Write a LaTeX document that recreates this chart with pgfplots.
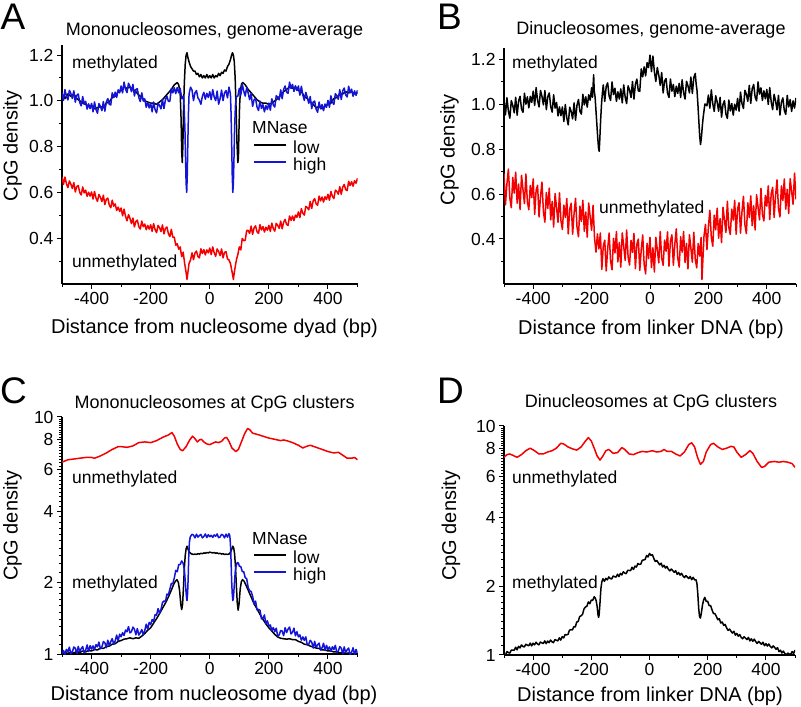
\documentclass[border=0pt]{standalone}
\usepackage{pgfplots}
\pgfplotsset{compat=1.18}
\usepackage{fontspec}
\setmainfont{Liberation Sans}
\definecolor{myred}{RGB}{245,0,0}
\definecolor{myblue}{RGB}{20,20,215}
\newcommand{\tfont}{\fontsize{17.5bp}{20bp}\selectfont}
\newcommand{\lfont}{\fontsize{20bp}{24bp}\selectfont}
\newcommand{\hfont}{\fontsize{18bp}{22bp}\selectfont}
\newcommand{\afont}{\fontsize{17.5bp}{20bp}\selectfont}
\newcommand{\pfont}{\fontsize{37bp}{40bp}\selectfont}
\pgfplotsset{
 panel/.style={
   scale only axis, anchor=south west,
   axis lines=left, axis line style={-, line width=1.4bp, black},
   tick align=outside, major tick length=5bp, minor tick length=3bp,
   tick style={black, line width=1bp},
   xmin=-500, xmax=500, xtick={-400,-200,0,200,400},
   minor xtick={-500,-300,-100,100,300,500},
   ticklabel style={font=\tfont},
   /pgf/number format/assume math mode=true,
   every axis plot/.append style={no marks, line width=1.5bp, line join=round},
 },
 linpanel/.style={ytick={0.4,0.6,0.8,1.0,1.2}, minor ytick={0.3,0.5,0.7,0.9,1.1},
   yticklabel style={/pgf/number format/.cd, fixed, fixed zerofill, precision=1}},
 logpanel/.style={ymin=1, ymax=10, ytick={1,2,4,6,8,10}, yticklabels={1,2,4,6,8,10},
   minor ytick={1.1,1.2,1.3,1.4,1.5,1.6,1.7,1.8,1.9,2.2,2.4,2.6,2.8,3,3.2,3.4,3.6,3.8,4.2,4.4,4.6,4.8,5,5.2,5.4,5.6,5.8,6.2,6.4,6.6,6.8,7,7.2,7.4,7.6,7.8,8.2,8.4,8.6,8.8,9,9.2,9.4,9.6,9.8}},
 mylegend/.style={legend cell align=left,
   legend image code/.code={\draw[##1, line width=2bp] (0bp,4.5bp) -- (32bp,4.5bp);},
   legend style={draw=none, fill=none, inner sep=0pt, anchor=north west, font=\afont,
     nodes={inner sep=0pt, text height=12bp, text depth=4.8bp},
     /tikz/every odd column/.append style={column sep=6bp}}},
}
\begin{document}
\begin{tikzpicture}
\useasboundingbox (0,0) rectangle (801bp,707bp);
% ---------------- A ----------------
\begin{axis}[panel, linpanel, mylegend, at={(62bp,423bp)}, width=295.5bp, height=239bp, ymin=0.2, ymax=1.244,
  legend style={at={(0.6464,0.597)}}]
\addplot[myred, forget plot] table[row sep=\\]{x y\\
-500 0.667\\ -495 0.635\\ -490 0.667\\ -485 0.638\\ -480 0.621\\ -475 0.650\\ -470 0.636\\ -465 0.617\\ -460 0.643\\ -455 0.602\\
-450 0.626\\ -445 0.630\\ -440 0.600\\ -435 0.589\\ -430 0.624\\ -425 0.598\\ -420 0.610\\ -415 0.583\\ -410 0.601\\ -405 0.584\\
-400 0.602\\ -395 0.571\\ -390 0.604\\ -385 0.576\\ -380 0.561\\ -375 0.591\\ -370 0.579\\ -365 0.560\\ -360 0.588\\ -355 0.547\\
-350 0.570\\ -345 0.575\\ -340 0.545\\ -335 0.533\\ -330 0.566\\ -325 0.540\\ -320 0.550\\ -315 0.521\\ -310 0.536\\ -305 0.517\\
-300 0.532\\ -295 0.498\\ -290 0.527\\ -285 0.495\\ -280 0.476\\ -275 0.503\\ -270 0.487\\ -265 0.464\\ -260 0.488\\ -255 0.449\\
-250 0.473\\ -245 0.479\\ -240 0.450\\ -235 0.440\\ -230 0.475\\ -225 0.450\\ -220 0.462\\ -215 0.437\\ -210 0.456\\ -205 0.440\\
-200 0.459\\ -195 0.430\\ -190 0.464\\ -185 0.438\\ -180 0.424\\ -175 0.456\\ -170 0.446\\ -165 0.429\\ -160 0.458\\ -155 0.419\\
-150 0.443\\ -145 0.449\\ -140 0.420\\ -135 0.407\\ -130 0.439\\ -125 0.404\\ -120 0.405\\ -115 0.369\\ -110 0.376\\ -105 0.352\\
-100 0.362\\ -95 0.319\\ -90 0.339\\ -85 0.29\\ -80 0.25\\ -77 0.22\\ -74 0.25\\ -70 0.29\\ -65 0.305\\ -60 0.336\\ -55 0.306\\
-50 0.335\\ -45 0.344\\ -40 0.320\\ -35 0.314\\ -30 0.354\\ -25 0.333\\ -20 0.350\\ -15 0.327\\ -10 0.349\\ -5 0.336\\
0 0.357\\ 5 0.328\\ 10 0.362\\ 15 0.336\\ 20 0.321\\ 25 0.353\\ 30 0.342\\ 35 0.324\\ 40 0.353\\ 45 0.314\\ 50 0.338\\ 55 0.341\\
60 0.310\\ 65 0.305\\ 70 0.29\\ 76 0.25\\ 80 0.22\\ 83 0.25\\ 88 0.29\\ 91 0.31\\ 95 0.328\\ 100 0.362\\ 105 0.349\\ 110 0.399\\
115 0.389\\ 120 0.391\\ 125 0.434\\ 130 0.434\\ 135 0.421\\ 140 0.453\\ 145 0.417\\ 150 0.445\\ 155 0.454\\ 160 0.428\\
165 0.421\\ 170 0.459\\ 175 0.436\\ 180 0.451\\ 185 0.427\\ 190 0.448\\ 195 0.435\\ 200 0.456\\ 205 0.430\\ 210 0.466\\
215 0.442\\ 220 0.431\\ 225 0.465\\ 230 0.456\\ 235 0.443\\ 240 0.475\\ 245 0.441\\ 250 0.470\\ 255 0.482\\ 260 0.460\\
265 0.456\\ 270 0.497\\ 275 0.478\\ 280 0.497\\ 285 0.477\\ 290 0.501\\ 295 0.491\\ 300 0.515\\ 305 0.490\\ 310 0.529\\
315 0.509\\ 320 0.501\\ 325 0.539\\ 330 0.534\\ 335 0.524\\ 340 0.561\\ 345 0.530\\ 350 0.563\\ 355 0.573\\ 360 0.550\\
365 0.544\\ 370 0.584\\ 375 0.563\\ 380 0.580\\ 385 0.558\\ 390 0.581\\ 395 0.569\\ 400 0.592\\ 405 0.566\\ 410 0.604\\
415 0.583\\ 420 0.573\\ 425 0.610\\ 430 0.604\\ 435 0.592\\ 440 0.625\\ 445 0.592\\ 450 0.623\\ 455 0.635\\ 460 0.612\\
465 0.608\\ 470 0.649\\ 475 0.630\\ 480 0.647\\ 485 0.627\\ 490 0.651\\ 495 0.640\\ 500 0.662\\
};
\addplot[black] table[row sep=\\]{x y\\
-500 1.03\\ -490 1.01\\ -480 1.03\\ -470 1.02\\ -460 1.03\\ -450 1.01\\ -440 1.00\\ -430 0.99\\ -420 0.985\\ -410 0.975\\
-400 0.98\\ -390 0.965\\ -380 0.97\\ -370 0.975\\ -360 0.97\\ -350 0.99\\ -340 0.995\\ -330 1.015\\ -320 1.02\\ -310 1.04\\
-300 1.045\\ -290 1.06\\ -280 1.055\\ -270 1.06\\ -260 1.05\\ -250 1.04\\ -240 1.025\\ -230 1.015\\ -220 1.0\\ -210 0.995\\
-200 0.99\\ -190 0.99\\ -180 0.985\\ -170 0.995\\ -160 1.005\\ -150 1.02\\ -140 1.035\\ -130 1.05\\ -120 1.07\\ -115 1.075\\
-110 1.08\\ -105 1.07\\ -100 1.03\\ -97 0.92\\ -95 0.78\\ -93 0.73\\ -91 0.80\\ -89 0.95\\ -86 1.08\\ -83 1.16\\ -80 1.20\\
-77 1.21\\ -74 1.19\\ -70 1.17\\ -65 1.15\\ -60 1.14\\ -55 1.13\\ -50 1.13\\ -45 1.115\\ -40 1.12\\ -35 1.105\\ -30 1.115\\
-25 1.10\\ -20 1.11\\ -15 1.10\\ -10 1.115\\ -5 1.10\\ 0 1.11\\ 5 1.10\\ 10 1.115\\ 15 1.10\\ 20 1.11\\ 25 1.105\\ 30 1.12\\
35 1.11\\ 40 1.125\\ 45 1.12\\ 50 1.135\\ 55 1.13\\ 60 1.15\\ 65 1.16\\ 70 1.18\\ 74 1.20\\ 77 1.21\\ 80 1.20\\ 83 1.17\\
86 1.10\\ 89 0.97\\ 92 0.82\\ 95 0.73\\ 97 0.75\\ 99 0.88\\ 101 0.98\\ 104 1.05\\ 108 1.075\\ 112 1.08\\ 116 1.075\\
120 1.07\\ 130 1.05\\ 140 1.035\\ 150 1.02\\ 160 1.005\\ 170 0.995\\ 180 0.99\\ 190 0.99\\ 200 0.985\\ 210 0.99\\ 220 1.0\\
230 1.01\\ 240 1.025\\ 250 1.04\\ 260 1.05\\ 270 1.06\\ 280 1.055\\ 290 1.06\\ 300 1.045\\ 310 1.04\\ 320 1.02\\ 330 1.01\\
340 0.995\\ 350 0.985\\ 360 0.97\\ 370 0.975\\ 380 0.965\\ 390 0.975\\ 400 0.985\\ 410 0.99\\ 420 1.01\\ 430 1.015\\
440 1.03\\ 450 1.03\\ 460 1.04\\ 470 1.035\\ 480 1.04\\ 490 1.03\\ 500 1.035\\
};
\addlegendentry{low}
\addplot[myblue] table[row sep=\\]{x y\\
-500 1.035\\ -495 1.002\\ -490 1.049\\ -485 1.019\\ -480 1.004\\ -475 1.046\\ -470 1.032\\ -465 1.010\\ -460 1.044\\ -455 0.994\\
-450 1.024\\ -445 1.030\\ -440 0.993\\ -435 0.978\\ -430 1.019\\ -425 0.985\\ -420 0.998\\ -415 0.964\\ -410 0.987\\ -405 0.966\\
-400 0.989\\ -395 0.952\\ -390 0.995\\ -385 0.962\\ -380 0.946\\ -375 0.988\\ -370 0.976\\ -365 0.957\\ -360 0.997\\ -355 0.955\\
-350 0.995\\ -345 1.010\\ -340 0.985\\ -335 0.982\\ -330 1.035\\ -325 1.014\\ -320 1.038\\ -315 1.015\\ -310 1.048\\ -305 1.035\\
-300 1.065\\ -295 1.035\\ -290 1.082\\ -285 1.051\\ -280 1.036\\ -275 1.077\\ -270 1.063\\ -265 1.040\\ -260 1.072\\ -255 1.021\\
-250 1.050\\ -245 1.053\\ -240 1.014\\ -235 0.997\\ -230 1.035\\ -225 0.999\\ -220 1.009\\ -215 0.972\\ -210 0.993\\ -205 0.969\\
-200 0.990\\ -195 0.952\\ -190 0.995\\ -185 0.962\\ -180 0.947\\ -175 0.990\\ -170 0.980\\ -165 0.965\\ -160 1.007\\ -155 0.966\\
-150 1.005\\ -145 1.020\\ -140 0.998\\ -135 0.998\\ -130 1.054\\ -125 1.035\\ -120 1.057\\ -115 1.032\\ -110 1.058\\ -105 1.035\\
-100 1.055\\ -95 1.010\\ -90 1.02\\ -87 0.98\\ -84 0.88\\ -82 0.75\\ -80 0.64\\ -78 0.60\\ -76 0.68\\ -74 0.83\\ -72 0.95\\
-70 1.03\\ -65 1.06\\ -60 1.047\\ -55 1.001\\ -50 1.035\\ -45 1.045\\ -40 1.013\\ -35 1.003\\ -30 0.985\\ -25 1.020\\
-20 1.037\\ -15 1.007\\ -10 1.033\\ -5 1.015\\ 0 1.040\\ 5 1.005\\ 10 1.049\\ 15 1.017\\ 20 1.001\\ 25 1.043\\ 30 0.985\\
35 1.010\\ 40 1.047\\ 45 1.001\\ 50 1.035\\ 55 1.045\\ 60 1.013\\ 65 1.06\\ 70 1.03\\ 72 0.95\\ 74 0.83\\ 76 0.68\\ 78 0.60\\
80 0.64\\ 82 0.75\\ 84 0.88\\ 87 0.98\\ 90 1.02\\ 95 1.020\\ 100 1.055\\ 105 1.025\\ 110 1.074\\ 115 1.042\\ 120 1.021\\
125 1.058\\ 130 1.035\\ 135 1.005\\ 140 1.032\\ 145 0.976\\ 150 1.005\\ 155 1.010\\ 160 0.973\\ 165 0.958\\ 170 0.999\\
175 0.967\\ 180 0.983\\ 185 0.952\\ 190 0.979\\ 195 0.962\\ 200 0.990\\ 205 0.959\\ 210 1.009\\ 215 0.982\\ 220 0.973\\
225 1.022\\ 230 1.016\\ 235 1.004\\ 240 1.048\\ 245 1.009\\ 250 1.050\\ 255 1.065\\ 260 1.038\\ 265 1.033\\ 270 1.082\\
275 1.054\\ 280 1.072\\ 285 1.041\\ 290 1.066\\ 295 1.045\\ 300 1.065\\ 305 1.025\\ 310 1.064\\ 315 1.025\\ 320 1.002\\
325 1.037\\ 330 1.016\\ 335 0.989\\ 340 1.019\\ 345 0.966\\ 350 0.995\\ 355 0.999\\ 360 0.963\\ 365 0.950\\ 370 0.995\\
375 0.965\\ 380 0.984\\ 385 0.957\\ 390 0.986\\ 395 0.972\\ 400 1.002\\ 405 0.972\\ 410 1.022\\ 415 0.995\\ 420 0.984\\
425 1.031\\ 430 1.023\\ 435 1.007\\ 440 1.049\\ 445 1.006\\ 450 1.044\\ 455 1.056\\ 460 1.026\\ 465 1.017\\ 470 1.064\\
475 1.035\\ 480 1.051\\ 485 1.020\\ 490 1.044\\ 495 1.024\\ 500 1.047\\
};
\addlegendentry{high}
\end{axis}
% ---------------- B ----------------
\begin{axis}[panel, linpanel, at={(504bp,423bp)}, width=292bp, height=236bp, ymin=0.2, ymax=1.249]
\addplot[black] table[row sep=\\]{x y\\
-500 1.017\\ -495 0.952\\ -490 1.028\\ -485 0.969\\ -480 0.937\\ -475 1.015\\ -470 0.994\\ -465 0.961\\ -460 1.030\\ -455 0.950\\
-450 1.013\\ -445 1.034\\ -440 0.978\\ -435 0.963\\ -430 1.048\\ -425 0.999\\ -420 1.032\\ -415 0.983\\ -410 1.034\\ -405 1.007\\
-400 1.057\\ -395 0.994\\ -390 1.073\\ -385 1.016\\ -380 0.987\\ -375 1.060\\ -370 1.034\\ -365 0.996\\ -360 1.060\\ -355 0.975\\
-350 1.033\\ -345 1.049\\ -340 0.988\\ -335 0.964\\ -330 1.041\\ -325 0.982\\ -320 1.007\\ -315 0.947\\ -310 0.987\\ -305 0.948\\
-300 0.987\\ -295 0.922\\ -290 0.998\\ -285 0.939\\ -280 0.907\\ -275 0.986\\ -270 0.967\\ -265 0.934\\ -260 1.005\\ -255 0.928\\
-250 0.995\\ -245 1.020\\ -240 0.968\\ -235 0.955\\ -230 1.043\\ -225 0.996\\ -220 1.032\\ -215 0.986\\ -210 1.041\\ -205 1.017\\
-200 1.072\\ -197 1.03\\ -195 1.08\\ -193 1.13\\ -191 1.06\\ -188 1.03\\ -185 0.97\\ -182 0.91\\ -179 0.85\\ -176 0.80\\
-174 0.79\\ -172 0.84\\ -169 0.93\\ -166 1.00\\ -163 1.05\\ -160 1.085\\ -155 1.012\\ -150 1.078\\ -145 1.094\\ -140 1.035\\
-135 1.016\\ -130 1.098\\ -125 1.042\\ -120 1.070\\ -115 1.012\\ -110 1.054\\ -105 1.022\\ -100 1.067\\ -95 1.005\\ -90 1.085\\
-85 1.030\\ -80 1.002\\ -75 1.081\\ -70 1.062\\ -65 1.029\\ -60 1.100\\ -55 1.022\\ -50 1.088\\ -45 1.111\\ -40 1.058\\
-35 1.057\\ -30 1.156\\ -25 1.121\\ -20 1.165\\ -15 1.125\\ -10 1.184\\ -5 1.162\\ 0 1.217\\ 5 1.144\\ 10 1.213\\ 15 1.143\\
20 1.100\\ 25 1.162\\ 30 1.129\\ 35 1.083\\ 40 1.140\\ 45 1.049\\ 50 1.103\\ 55 1.113\\ 60 1.048\\ 65 1.029\\ 70 1.111\\
75 1.057\\ 80 1.087\\ 85 1.033\\ 90 1.079\\ 95 1.047\\ 100 1.092\\ 105 1.029\\ 110 1.108\\ 115 1.051\\ 120 1.022\\ 125 1.101\\
130 1.081\\ 135 1.049\\ 140 1.120\\ 145 1.047\\ 150 1.118\\ 155 1.136\\ 158 1.09\\ 161 1.06\\ 164 1.00\\ 167 0.93\\ 170 0.86\\
173 0.82\\ 176 0.85\\ 179 0.90\\ 182 0.94\\ 185 0.97\\ 188 1.0\\ 190 0.999\\ 195 0.992\\ 200 1.040\\ 205 0.981\\ 210 1.063\\
215 1.001\\ 220 0.967\\ 225 1.037\\ 230 1.009\\ 235 0.968\\ 240 1.030\\ 245 0.942\\ 250 0.998\\ 255 1.015\\ 260 0.955\\
265 0.936\\ 270 1.018\\ 275 0.969\\ 280 1.002\\ 285 0.951\\ 290 0.999\\ 295 0.973\\ 300 1.025\\ 305 0.968\\ 310 1.053\\
315 1.002\\ 320 0.980\\ 325 1.061\\ 330 1.044\\ 335 1.012\\ 340 1.083\\ 345 1.003\\ 350 1.068\\ 355 1.087\\ 360 1.031\\
365 1.014\\ 370 1.098\\ 375 1.044\\ 380 1.072\\ 385 1.016\\ 390 1.059\\ 395 1.023\\ 400 1.065\\ 405 0.998\\ 410 1.073\\
415 1.010\\ 420 0.975\\ 425 1.043\\ 430 1.014\\ 435 0.974\\ 440 1.038\\ 445 0.951\\ 450 1.008\\ 455 1.027\\ 460 0.971\\
465 0.954\\ 470 1.038\\ 475 0.987\\ 480 1.020\\ 485 0.967\\ 490 1.014\\ 495 0.982\\ 500 1.027\\
};
\addplot[myred] table[row sep=\\]{x y\\
-500 0.690\\ -495 0.552\\ -490 0.645\\ -485 0.711\\ -480 0.582\\ -475 0.539\\ -470 0.674\\ -465 0.604\\ -460 0.697\\ -455 0.559\\
-450 0.644\\ -445 0.531\\ -440 0.683\\ -435 0.620\\ -430 0.557\\ -425 0.689\\ -420 0.566\\ -415 0.530\\ -410 0.638\\ -405 0.584\\
-400 0.667\\ -395 0.509\\ -390 0.617\\ -385 0.639\\ -380 0.498\\ -375 0.588\\ -370 0.653\\ -365 0.521\\ -360 0.475\\ -355 0.607\\
-350 0.536\\ -345 0.626\\ -340 0.485\\ -335 0.567\\ -330 0.453\\ -325 0.602\\ -320 0.539\\ -315 0.474\\ -310 0.605\\ -305 0.481\\
-300 0.442\\ -295 0.551\\ -290 0.496\\ -285 0.580\\ -280 0.423\\ -275 0.533\\ -270 0.559\\ -265 0.421\\ -260 0.514\\ -255 0.581\\
-250 0.453\\ -245 0.410\\ -240 0.546\\ -235 0.478\\ -230 0.572\\ -225 0.434\\ -220 0.520\\ -215 0.408\\ -210 0.560\\ -205 0.500\\
-200 0.439\\ -195 0.550\\ -190 0.406\\ -185 0.342\\ -180 0.423\\ -175 0.356\\ -170 0.427\\ -165 0.265\\ -160 0.369\\ -155 0.395\\
-150 0.258\\ -145 0.355\\ -140 0.427\\ -135 0.302\\ -130 0.263\\ -125 0.403\\ -120 0.338\\ -115 0.433\\ -110 0.298\\ -105 0.385\\
-100 0.275\\ -95 0.427\\ -90 0.367\\ -85 0.305\\ -80 0.440\\ -75 0.320\\ -70 0.284\\ -65 0.394\\ -60 0.341\\ -55 0.425\\
-50 0.268\\ -45 0.377\\ -40 0.400\\ -35 0.261\\ -30 0.352\\ -25 0.418\\ -20 0.287\\ -15 0.245\\ -10 0.381\\ -5 0.313\\
0 0.407\\ 5 0.273\\ 10 0.361\\ 15 0.253\\ 20 0.408\\ 25 0.352\\ 30 0.294\\ 35 0.433\\ 40 0.316\\ 45 0.283\\ 50 0.395\\
55 0.345\\ 60 0.432\\ 65 0.279\\ 70 0.391\\ 75 0.419\\ 80 0.283\\ 85 0.377\\ 90 0.445\\ 95 0.317\\ 100 0.275\\ 105 0.410\\
110 0.341\\ 115 0.433\\ 120 0.295\\ 125 0.380\\ 130 0.267\\ 135 0.419\\ 140 0.359\\ 145 0.297\\ 150 0.430\\ 155 0.309\\
160 0.272\\ 165 0.380\\ 170 0.324\\ 175 0.407\\ 178 0.22\\ 180 0.278\\ 185 0.414\\ 190 0.465\\ 195 0.353\\ 200 0.454\\
205 0.528\\ 210 0.407\\ 215 0.368\\ 220 0.506\\ 225 0.441\\ 230 0.537\\ 235 0.403\\ 240 0.491\\ 245 0.384\\ 250 0.541\\
255 0.485\\ 260 0.429\\ 265 0.568\\ 270 0.451\\ 275 0.420\\ 280 0.533\\ 285 0.484\\ 290 0.572\\ 295 0.421\\ 300 0.534\\
305 0.561\\ 310 0.426\\ 315 0.521\\ 320 0.590\\ 325 0.464\\ 330 0.424\\ 335 0.561\\ 340 0.495\\ 345 0.592\\ 350 0.459\\
355 0.548\\ 360 0.440\\ 365 0.597\\ 370 0.542\\ 375 0.485\\ 380 0.625\\ 385 0.510\\ 390 0.480\\ 395 0.594\\ 400 0.546\\
405 0.636\\ 410 0.486\\ 415 0.600\\ 420 0.630\\ 425 0.496\\ 430 0.592\\ 435 0.663\\ 440 0.537\\ 445 0.498\\ 450 0.636\\
455 0.571\\ 460 0.667\\ 465 0.533\\ 470 0.621\\ 475 0.513\\ 480 0.668\\ 485 0.612\\ 490 0.554\\ 495 0.693\\ 500 0.576\\
};
\end{axis}
% ---------------- C ----------------
\begin{axis}[ymode=log, panel, logpanel, mylegend, at={(62bp,53bp)}, width=295.5bp, height=237bp,
  legend style={at={(0.6464,0.4333)}}]
\addplot[myred, forget plot] table[row sep=\\]{x y\\
-500 6.45\\ -480 6.6\\ -460 6.65\\ -440 6.7\\ -420 6.75\\ -400 6.75\\ -390 6.7\\ -370 6.85\\ -350 7.05\\ -330 7.3\\ -310 7.5\\
-300 7.5\\ -280 7.45\\ -260 7.55\\ -240 7.8\\ -220 7.85\\ -200 7.8\\ -180 7.95\\ -160 8.2\\ -140 8.4\\ -128 8.6\\ -120 8.3\\
-110 7.7\\ -100 7.3\\ -92 7.2\\ -80 7.5\\ -68 8.0\\ -58 8.3\\ -50 8.1\\ -42 7.85\\ -35 8.0\\ -28 8.05\\ -20 7.85\\ -10 7.7\\
0 7.65\\ 10 7.75\\ 20 7.85\\ 30 7.8\\ 40 7.9\\ 50 8.15\\ 57 8.2\\ 65 7.9\\ 75 7.4\\ 88 7.15\\ 97 7.3\\ 108 7.9\\ 118 8.5\\
128 8.95\\ 135 8.85\\ 145 8.55\\ 160 8.45\\ 180 8.3\\ 200 8.15\\ 220 8.05\\ 240 7.95\\ 250 8.0\\ 260 7.95\\ 280 7.8\\
300 7.6\\ 315 7.4\\ 325 7.5\\ 340 7.6\\ 360 7.45\\ 380 7.3\\ 400 7.15\\ 420 7.05\\ 435 7.1\\ 450 6.9\\ 465 6.7\\ 480 6.7\\
490 6.75\\ 500 6.6\\
};
\addplot[black] table[row sep=\\]{x y\\
-500 1.0\\ -490 1.015\\ -480 1.005\\ -470 1.02\\ -460 1.01\\ -450 1.025\\ -440 1.015\\ -430 1.03\\ -420 1.02\\ -410 1.035\\
-400 1.03\\ -390 1.045\\ -380 1.04\\ -370 1.06\\ -360 1.055\\ -350 1.075\\ -340 1.08\\ -330 1.10\\ -320 1.105\\ -310 1.13\\
-300 1.14\\ -290 1.155\\ -280 1.16\\ -270 1.17\\ -260 1.16\\ -250 1.17\\ -240 1.165\\ -230 1.19\\ -220 1.22\\ -210 1.26\\
-200 1.29\\ -190 1.35\\ -180 1.41\\ -170 1.48\\ -160 1.56\\ -150 1.64\\ -140 1.74\\ -130 1.86\\ -122 1.97\\ -116 2.03\\
-111 2.06\\ -106 2.0\\ -102 1.85\\ -98 1.62\\ -95 1.54\\ -92 1.62\\ -89 1.9\\ -86 2.3\\ -83 2.6\\ -80 2.78\\ -77 2.85\\
-74 2.78\\ -70 2.7\\ -65 2.66\\ -60 2.64\\ -55 2.63\\ -50 2.64\\ -45 2.63\\ -40 2.65\\ -35 2.64\\ -30 2.66\\ -25 2.65\\
-20 2.67\\ -15 2.66\\ -10 2.68\\ -5 2.67\\ 0 2.69\\ 5 2.68\\ 10 2.67\\ 15 2.68\\ 20 2.66\\ 25 2.67\\ 30 2.65\\ 35 2.66\\
40 2.64\\ 45 2.65\\ 50 2.63\\ 55 2.64\\ 60 2.63\\ 65 2.64\\ 70 2.68\\ 74 2.76\\ 78 2.85\\ 81 2.8\\ 84 2.65\\ 87 2.35\\
90 1.95\\ 93 1.65\\ 96 1.53\\ 99 1.62\\ 103 1.88\\ 107 2.02\\ 111 2.06\\ 116 2.03\\ 122 1.96\\ 130 1.86\\ 140 1.74\\
150 1.63\\ 160 1.55\\ 170 1.47\\ 180 1.40\\ 190 1.34\\ 200 1.29\\ 210 1.25\\ 220 1.21\\ 230 1.18\\ 240 1.165\\ 250 1.16\\
260 1.155\\ 270 1.16\\ 280 1.15\\ 290 1.15\\ 300 1.13\\ 310 1.12\\ 320 1.10\\ 330 1.095\\ 340 1.08\\ 350 1.07\\ 360 1.06\\
370 1.055\\ 380 1.04\\ 390 1.04\\ 400 1.03\\ 410 1.03\\ 420 1.02\\ 430 1.02\\ 440 1.01\\ 450 1.015\\ 460 1.005\\ 470 1.01\\
480 1.0\\ 490 1.005\\ 500 1.0\\
};
\addlegendentry{low}
\addplot[myblue] table[row sep=\\]{x y\\
-500 1.005\\ -495 1.034\\ -490 0.997\\ -485 1.046\\ -480 1.022\\ -475 1.069\\ -470 1.001\\ -465 1.018\\ -460 1.071\\ -455 1.057\\
-450 1.005\\ -445 1.077\\ -440 1.022\\ -435 1.054\\ -430 1.075\\ -425 1.010\\ -420 1.037\\ -415 1.092\\ -410 1.025\\ -405 1.085\\
-400 1.049\\ -395 1.082\\ -390 1.043\\ -385 1.095\\ -380 1.072\\ -375 1.123\\ -370 1.052\\ -365 1.071\\ -360 1.128\\ -355 1.116\\
-350 1.062\\ -345 1.143\\ -340 1.085\\ -335 1.128\\ -330 1.161\\ -325 1.099\\ -320 1.136\\ -315 1.202\\ -310 1.135\\ -305 1.212\\
-300 1.182\\ -295 1.230\\ -290 1.197\\ -285 1.262\\ -280 1.241\\ -275 1.305\\ -270 1.228\\ -265 1.242\\ -260 1.298\\ -255 1.274\\
-250 1.205\\ -245 1.281\\ -240 1.202\\ -235 1.229\\ -230 1.268\\ -225 1.205\\ -220 1.255\\ -215 1.336\\ -210 1.271\\ -205 1.360\\
-200 1.330\\ -195 1.397\\ -190 1.372\\ -185 1.466\\ -180 1.459\\ -175 1.554\\ -170 1.484\\ -165 1.542\\ -160 1.648\\ -155 1.675\\
-150 1.659\\ -145 1.789\\ -140 1.773\\ -135 1.879\\ -130 1.985\\ -125 1.981\\ -120 2.093\\ -115 2.253\\ -110 2.225\\ -105 2.385\\
-100 2.386\\ -95 2.470\\ -91 2.43\\ -88 2.35\\ -85 2.2\\ -82 1.95\\ -79 1.75\\ -77 1.68\\ -75 1.8\\ -73 2.1\\ -71 2.6\\
-69 2.95\\ -66 3.12\\ -60 3.20\\ -55 3.175\\ -50 3.09\\ -45 3.205\\ -40 3.112\\ -35 3.163\\ -30 3.195\\ -25 3.09\\ -20 3.13\\
-15 3.21\\ -10 3.10\\ -5 3.188\\ 0 3.125\\ 5 3.17\\ 10 3.105\\ 15 3.18\\ 20 3.138\\ 25 3.21\\ 30 3.095\\ 35 3.12\\ 40 3.20\\
45 3.175\\ 50 3.09\\ 55 3.205\\ 60 3.112\\ 65 3.22\\ 68 3.15\\ 70 2.9\\ 72 2.5\\ 74 2.05\\ 76 1.8\\ 78 1.68\\ 80 1.72\\
83 1.95\\ 86 2.2\\ 89 2.35\\ 93 2.43\\ 97 2.42\\ 100 2.346\\ 105 2.339\\ 110 2.229\\ 115 2.226\\ 120 2.099\\ 125 2.079\\
130 1.907\\ 135 1.848\\ 140 1.836\\ 145 1.757\\ 150 1.620\\ 155 1.673\\ 160 1.535\\ 165 1.542\\ 170 1.530\\ 175 1.407\\
180 1.413\\ 185 1.461\\ 190 1.339\\ 195 1.380\\ 200 1.310\\ 205 1.326\\ 210 1.255\\ 215 1.293\\ 220 1.241\\ 225 1.285\\
230 1.189\\ 235 1.203\\ 240 1.257\\ 245 1.249\\ 250 1.195\\ 255 1.291\\ 260 1.232\\ 265 1.275\\ 270 1.299\\ 275 1.215\\
280 1.235\\ 285 1.285\\ 290 1.193\\ 295 1.242\\ 300 1.182\\ 305 1.204\\ 310 1.143\\ 315 1.181\\ 320 1.141\\ 325 1.181\\
330 1.093\\ 335 1.100\\ 340 1.143\\ 345 1.122\\ 350 1.060\\ 355 1.131\\ 360 1.066\\ 365 1.094\\ 370 1.111\\ 375 1.039\\
380 1.062\\ 385 1.110\\ 390 1.036\\ 395 1.088\\ 400 1.044\\ 405 1.071\\ 410 1.028\\ 415 1.073\\ 420 1.044\\ 425 1.088\\
430 1.013\\ 435 1.027\\ 440 1.075\\ 445 1.058\\ 450 1.003\\ 455 1.072\\ 460 1.013\\ 465 1.042\\ 470 1.060\\ 475 0.993\\
480 1.016\\ 485 1.063\\ 490 0.993\\ 495 1.045\\ 500 1.005\\
};
\addlegendentry{high}
\end{axis}
% ---------------- D ----------------
\begin{axis}[ymode=log, panel, logpanel, at={(504bp,52bp)}, width=291bp, height=229bp]
\addplot[myred] table[row sep=\\]{x y\\
-500 7.3\\ -490 7.5\\ -480 7.55\\ -470 7.45\\ -455 7.3\\ -440 7.5\\ -425 7.8\\ -410 8.0\\ -395 7.8\\ -380 7.55\\ -365 7.55\\
-350 7.7\\ -335 7.8\\ -320 8.0\\ -305 8.4\\ -295 8.35\\ -280 8.1\\ -265 7.95\\ -250 7.85\\ -235 8.1\\ -220 8.6\\ -210 8.9\\
-200 8.6\\ -190 8.0\\ -180 7.4\\ -170 7.1\\ -160 7.4\\ -150 7.8\\ -140 7.9\\ -125 7.6\\ -110 7.65\\ -95 8.05\\ -85 7.9\\
-70 7.55\\ -55 7.5\\ -40 7.65\\ -25 7.75\\ -10 7.7\\ 0 7.75\\ 10 7.8\\ 25 7.7\\ 40 7.75\\ 50 7.9\\ 60 7.75\\ 75 7.75\\
90 7.55\\ 105 7.4\\ 120 7.7\\ 135 8.3\\ 145 8.45\\ 155 8.1\\ 165 7.3\\ 175 6.8\\ 185 7.0\\ 195 7.7\\ 210 8.3\\ 220 8.4\\
235 8.1\\ 250 7.9\\ 265 8.0\\ 280 8.15\\ 290 8.1\\ 300 7.7\\ 315 7.3\\ 330 7.5\\ 345 7.8\\ 355 7.6\\ 370 7.0\\ 385 6.6\\
395 6.65\\ 410 6.95\\ 430 7.0\\ 445 6.95\\ 460 7.0\\ 475 6.95\\ 490 6.85\\ 500 6.6\\
};
\addplot[black] table[row sep=\\]{x y\\
-500 1.010\\ -495 1.000\\ -490 1.035\\ -485 1.025\\ -480 1.019\\ -475 1.050\\ -470 1.050\\ -465 1.049\\ -460 1.081\\ -455 1.054\\
-450 1.091\\ -445 1.074\\ -440 1.106\\ -435 1.090\\ -430 1.084\\ -425 1.114\\ -420 1.105\\ -415 1.097\\ -410 1.127\\ -405 1.096\\
-400 1.126\\ -395 1.107\\ -390 1.137\\ -385 1.117\\ -380 1.108\\ -375 1.139\\ -370 1.130\\ -365 1.122\\ -360 1.152\\ -355 1.121\\
-350 1.151\\ -345 1.132\\ -340 1.162\\ -335 1.142\\ -330 1.133\\ -325 1.167\\ -320 1.160\\ -315 1.153\\ -310 1.188\\ -305 1.162\\
-300 1.202\\ -295 1.188\\ -290 1.228\\ -285 1.224\\ -280 1.231\\ -275 1.283\\ -270 1.290\\ -265 1.287\\ -260 1.330\\ -255 1.325\\
-250 1.394\\ -245 1.401\\ -240 1.472\\ -235 1.483\\ -230 1.507\\ -225 1.591\\ -220 1.620\\ -215 1.634\\ -210 1.705\\ -205 1.675\\
-200 1.737\\ -195 1.733\\ -190 1.797\\ -186 1.77\\ -183 1.72\\ -180 1.63\\ -177 1.50\\ -175 1.46\\ -173 1.50\\ -170 1.70\\
-167 1.95\\ -164 2.08\\ -160 2.152\\ -155 2.098\\ -150 2.161\\ -145 2.129\\ -140 2.192\\ -135 2.159\\ -130 2.147\\ -125 2.212\\
-120 2.200\\ -115 2.188\\ -110 2.253\\ -105 2.201\\ -100 2.273\\ -95 2.237\\ -90 2.309\\ -85 2.279\\ -80 2.266\\ -75 2.343\\
-70 2.340\\ -65 2.336\\ -60 2.416\\ -55 2.364\\ -50 2.444\\ -45 2.421\\ -40 2.507\\ -35 2.488\\ -30 2.492\\ -25 2.591\\
-20 2.600\\ -15 2.614\\ -10 2.720\\ -5 2.679\\ 0 2.778\\ 5 2.723\\ 10 2.741\\ 15 2.637\\ 20 2.561\\ 25 2.586\\ 30 2.530\\
35 2.475\\ 40 2.517\\ 45 2.423\\ 50 2.464\\ 55 2.396\\ 60 2.436\\ 65 2.368\\ 70 2.330\\ 75 2.374\\ 80 2.335\\ 85 2.297\\
90 2.335\\ 95 2.251\\ 100 2.293\\ 105 2.232\\ 110 2.274\\ 115 2.214\\ 120 2.177\\ 125 2.222\\ 130 2.190\\ 135 2.158\\
140 2.203\\ 145 2.133\\ 150 2.182\\ 155 2.129\\ 160 2.13\\ 163 2.05\\ 166 1.85\\ 169 1.6\\ 172 1.47\\ 175 1.45\\ 178 1.52\\
182 1.65\\ 186 1.74\\ 190 1.786\\ 195 1.714\\ 200 1.717\\ 205 1.643\\ 210 1.644\\ 215 1.572\\ 220 1.517\\ 225 1.515\\
230 1.470\\ 235 1.426\\ 240 1.441\\ 245 1.379\\ 250 1.394\\ 255 1.346\\ 260 1.360\\ 265 1.313\\ 270 1.281\\ 275 1.298\\
280 1.270\\ 285 1.247\\ 290 1.269\\ 295 1.221\\ 300 1.242\\ 305 1.208\\ 310 1.228\\ 315 1.194\\ 320 1.177\\ 325 1.202\\
330 1.185\\ 335 1.168\\ 340 1.193\\ 345 1.152\\ 350 1.177\\ 355 1.148\\ 360 1.172\\ 365 1.144\\ 370 1.123\\ 375 1.146\\
380 1.130\\ 385 1.114\\ 390 1.137\\ 395 1.098\\ 400 1.121\\ 405 1.094\\ 410 1.117\\ 415 1.090\\ 420 1.074\\ 425 1.096\\
430 1.080\\ 435 1.059\\ 440 1.076\\ 445 1.034\\ 450 1.050\\ 455 1.020\\ 460 1.040\\ 465 1.015\\ 470 1.000\\ 475 1.020\\
480 1.010\\ 485 1.005\\ 490 1.035\\ 495 1.015\\ 500 1.050\\
};
\end{axis}
% ---------------- texts ----------------
\node[anchor=base west, inner sep=0pt, font=\pfont] at (0.5bp,677bp) {A};
\node[anchor=base west, inner sep=0pt, font=\pfont] at (437bp,677bp) {B};
\node[anchor=base west, inner sep=0pt, font=\pfont] at (0bp,303.7bp) {C};
\node[anchor=base west, inner sep=0pt, font=\pfont] at (437bp,303.7bp) {D};
\node[anchor=base, inner sep=0pt, font=\hfont] at (214.5bp,671bp) {Mononucleosomes, genome-average};
\node[anchor=base, inner sep=0pt, font=\hfont] at (651bp,672bp) {Dinucleosomes, genome-average};
\node[anchor=base, inner sep=0pt, font=\hfont] at (214.6bp,298.7bp) {Mononucleosomes at CpG clusters};
\node[anchor=base, inner sep=0pt, font=\hfont] at (651bp,299.3bp) {Dinucleosomes at CpG clusters};
\node[anchor=base, inner sep=0pt, font=\lfont] at (214.5bp,373.7bp) {Distance from nucleosome dyad (bp)};
\node[anchor=base, inner sep=0pt, font=\lfont] at (651bp,372.7bp) {Distance from linker DNA (bp)};
\node[anchor=base, inner sep=0pt, font=\lfont] at (214bp,7bp) {Distance from nucleosome dyad (bp)};
\node[anchor=base, inner sep=0pt, font=\lfont] at (650bp,6bp) {Distance from linker DNA (bp)};
\node[anchor=base, inner sep=0pt, font=\lfont, rotate=90] at (17.5bp,561bp) {CpG density};
\node[anchor=base, inner sep=0pt, font=\lfont, rotate=90] at (454.5bp,557bp) {CpG density};
\node[anchor=base, inner sep=0pt, font=\lfont, rotate=90] at (17.5bp,181.2bp) {CpG density};
\node[anchor=base, inner sep=0pt, font=\lfont, rotate=90] at (456bp,181.2bp) {CpG density};
\node[anchor=base west, inner sep=0pt, font=\afont] at (72bp,638.7bp) {methylated};
\node[anchor=base west, inner sep=0pt, font=\afont] at (72bp,439.7bp) {unmethylated};
\node[anchor=base west, inner sep=0pt, font=\afont] at (252bp,573bp) {MNase};
\node[anchor=base west, inner sep=0pt, font=\afont] at (512bp,638.7bp) {methylated};
\node[anchor=base west, inner sep=0pt, font=\afont] at (599bp,493.7bp) {unmethylated};
\node[anchor=base west, inner sep=0pt, font=\afont] at (72bp,223.7bp) {unmethylated};
\node[anchor=base west, inner sep=0pt, font=\afont] at (72bp,118.7bp) {methylated};
\node[anchor=base west, inner sep=0pt, font=\afont] at (252bp,162bp) {MNase};
\node[anchor=base west, inner sep=0pt, font=\afont] at (512bp,223.7bp) {unmethylated};
\node[anchor=base west, inner sep=0pt, font=\afont] at (512bp,118.7bp) {methylated};
\end{tikzpicture}
\end{document}
